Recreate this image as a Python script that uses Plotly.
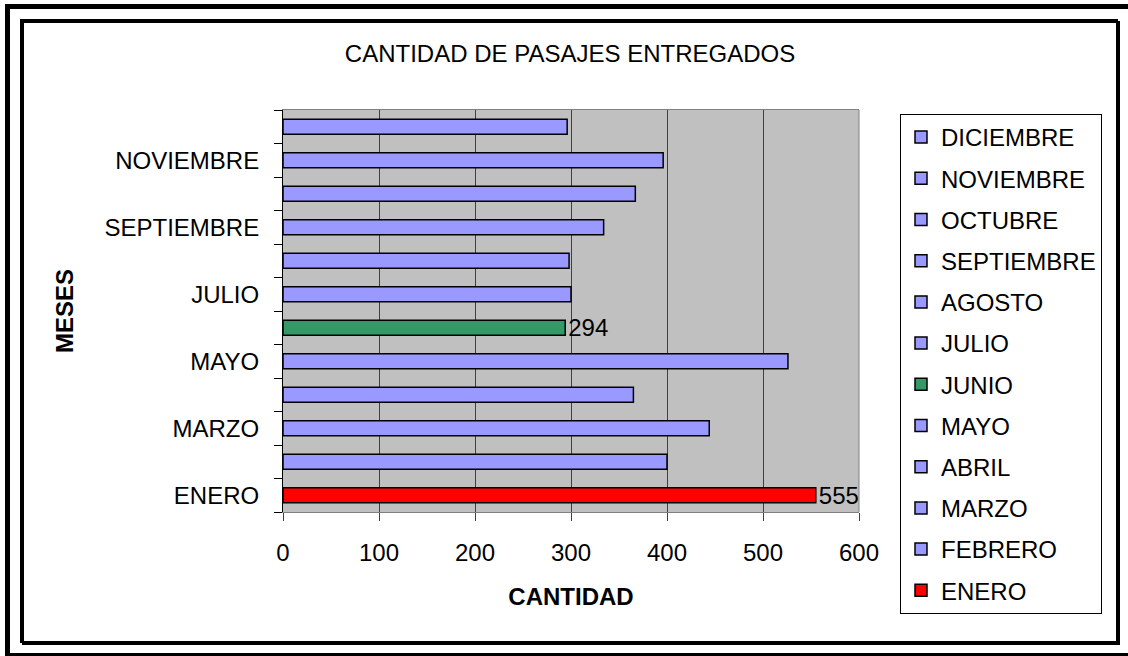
import plotly.graph_objects as go

MESES = ["ENERO", "FEBRERO", "MARZO", "ABRIL", "MAYO", "JUNIO",
         "JULIO", "AGOSTO", "SEPTIEMBRE", "OCTUBRE", "NOVIEMBRE", "DICIEMBRE"]
PASAJES = [555, 400, 444, 365, 526, 294, 300, 298, 334, 367, 396, 296]
ETIQUETAS_Y = ["ENERO", "", "MARZO", "", "MAYO", "", "JULIO", "",
               "SEPTIEMBRE", "", "NOVIEMBRE", ""]
TICKS_X = [0, 100, 200, 300, 400, 500, 600]
DESTACADOS = {"ENERO": "#FF0000", "JUNIO": "#339966"}

COLOR_BASE = "#9999FF"
FONT = "Liberation Sans, Arial, sans-serif"

W, H = 1128, 656
L, R, T, B = 283, 269, 110, 144
PW = W - L - R
PH = H - T - B


def fx(px):
    return (px - L) / PW


def fy(py):
    return (H - B - py) / PH


def rect(x0, y0, x1, y1, **kw):
    return dict(type="rect", xref="paper", yref="paper",
                x0=fx(x0), x1=fx(x1), y0=fy(y1), y1=fy(y0), **kw)


fig = go.Figure()

# legend lists DICIEMBRE first, so add traces from the last month back
for mes, valor in reversed(list(zip(MESES, PASAJES))):
    color = DESTACADOS.get(mes, COLOR_BASE)
    texto = [str(valor)] if mes in DESTACADOS else None
    fig.add_trace(go.Bar(
        x=[valor],
        y=[mes],
        orientation="h",
        name=mes,
        legendgroup=mes,
        width=0.45,
        marker=dict(color=color, line=dict(color="#000000", width=1.5)),
        text=texto,
        textposition="outside",
        textfont=dict(size=24, color="#000000", family=FONT),
        cliponaxis=False,
        constraintext="none",
    ))

shapes = [
    # outer frame of the page
    rect(5, 4, 10, 656, fillcolor="#000000", line_width=0, layer="below"),
    rect(5, 4, 1128, 9, fillcolor="#000000", line_width=0, layer="below"),
    rect(5, 653, 1128, 656, fillcolor="#000000", line_width=0, layer="below"),
    # chart area border with shadow
    rect(23, 22, 1119, 644, line=dict(color="#000000", width=2), layer="below"),
    rect(21, 20, 1117, 642, line=dict(color="#000000", width=2), layer="below"),
    # right edge of the plot area
    dict(type="line", xref="paper", yref="paper", x0=1, x1=1, y0=0, y1=1,
         line=dict(color="#808080", width=1)),
]

fig.update_layout(
    width=W,
    height=H,
    margin=dict(l=L, r=R, t=T, b=B, pad=0),
    paper_bgcolor="#FFFFFF",
    plot_bgcolor="#C0C0C0",
    barmode="overlay",
    font=dict(family=FONT, size=24, color="#000000"),
    title=dict(
        text="CANTIDAD DE PASAJES ENTREGADOS",
        x=570 / W, xanchor="center",
        y=1 - 54 / H, yanchor="middle",
        font=dict(size=24),
    ),
    legend=dict(
        x=fx(900), xanchor="left",
        y=fy(114), yanchor="top",
        traceorder="grouped",
        tracegroupgap=7,
        maxheight=560,
        bordercolor="#000000",
        borderwidth=1,
        bgcolor="#FFFFFF",
        font=dict(size=24),
    ),
    shapes=shapes,
    showlegend=True,
)

fig.update_xaxes(
    range=[0, 600],
    tickvals=TICKS_X,
    ticks="outside",
    ticklen=8,
    tickcolor="#404040",
    ticklabelstandoff=11,
    showgrid=True,
    gridcolor="#404040",
    gridwidth=1,
    zeroline=False,
    showline=True,
    linecolor="#808080",
    linewidth=1,
    mirror=True,
    title=dict(text="<b>CANTIDAD</b>", standoff=23, font=dict(size=24)),
)

fig.update_yaxes(
    type="category",
    categoryorder="array",
    categoryarray=MESES,
    tickmode="array",
    tickvals=MESES,
    ticktext=ETIQUETAS_Y,
    tickson="boundaries",
    ticks="outside",
    ticklen=8,
    tickcolor="#000000",
    ticklabelstandoff=18,
    showgrid=False,
    showline=True,
    linecolor="#000000",
    linewidth=1,
    title=dict(text="<b>MESES</b>", standoff=24, font=dict(size=24)),
)

# the page body has a default 8px margin; drop it so the figure fills the window
fig.write_html(
    "out.html",
    config={"displayModeBar": False},
    post_script="document.body.style.margin = '0';",
)
